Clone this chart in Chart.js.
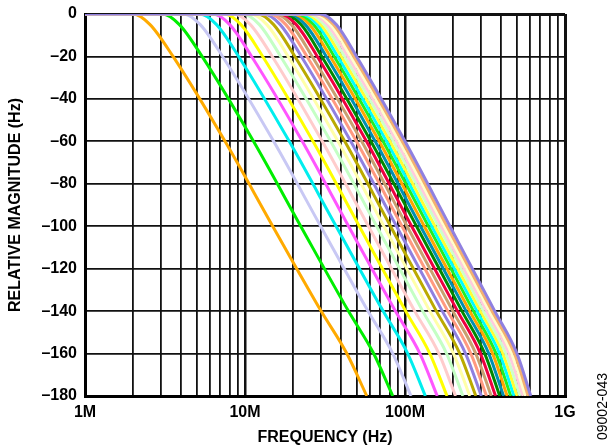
<!DOCTYPE html>
<html>
<head>
<meta charset="utf-8">
<script src="https://cdn.jsdelivr.net/npm/chart.js@4.4.0/dist/chart.umd.min.js"></script>
<style>
  html, body { margin: 0; padding: 0; background: #fff; }
  #wrap { width: 610px; height: 448px; }
</style>
</head>
<body>
<div id="wrap"><canvas id="chart" width="610" height="448"></canvas></div>
<script>
// magnitude levels (dB) that every curve row below is read at
const levelsDb = [0, -5, -20, -60, -100, -140, -160, -180];
const startMHz = 1;

// frequency (MHz) where each filter curve reaches the levels above
// knee, -5, -20, -60, -100, -140, -160, -180
const curveRows = [
    [2.00, 2.55, 3.55, 7.50, 14.9, 29.9, 43.3, 57.7],
    [3.05, 3.89, 5.39, 11.3, 22.3, 44.3, 63.7, 83.8],
    [4.13, 5.25, 7.24, 15.1, 29.7, 58.7, 83.9, 109],
    [5.22, 6.64, 9.12, 18.9, 37.1, 73.0, 104, 134],
    [6.32, 8.03, 11.0, 22.8, 44.4, 87.1, 124, 159],
    [7.44, 9.43, 12.9, 26.6, 51.8, 101, 143, 183],
    [8.56, 10.8, 14.8, 30.4, 59.1, 115, 163, 207],
    [9.68, 12.3, 16.7, 34.3, 66.5, 129, 182, 230],
    [10.8, 13.7, 18.6, 38.1, 73.8, 143, 201, 254],
    [12.0, 15.1, 20.5, 42.0, 81.2, 157, 220, 277],
    [13.1, 16.6, 22.5, 45.8, 88.5, 171, 239, 300],
    [14.2, 18.0, 24.4, 49.7, 95.8, 185, 258, 323],
    [15.4, 19.5, 26.3, 53.6, 103, 199, 277, 346],
    [16.6, 20.9, 28.3, 57.4, 110, 213, 296, 368],
    [17.7, 22.4, 30.2, 61.2, 118, 227, 315, 391],
    [18.9, 23.8, 32.2, 65.1, 125, 241, 334, 413],
    [20.0, 25.3, 34.1, 69.0, 132, 254, 353, 435],
    [21.2, 26.8, 36.1, 72.9, 140, 268, 371, 458],
    [22.4, 28.3, 38.0, 76.7, 147, 282, 390, 480],
    [23.6, 29.7, 40.0, 80.6, 154, 296, 409, 502],
    [24.8, 31.2, 41.9, 84.5, 162, 309, 427, 524],
    [25.9, 32.7, 43.9, 88.4, 169, 323, 446, 546],
    [27.1, 34.2, 45.9, 92.3, 176, 337, 464, 567],
    [28.3, 35.7, 47.8, 96.1, 183, 350, 483, 589],
    [29.5, 37.2, 49.8, 100, 191, 364, 501, 611]
];

const curveColors = [
    '#ffaa00', '#00ee00', '#c8c8f4', '#00eeee', '#ff55ff', '#ffff00', '#ffcccc',
    '#c4ffc4', '#ffffa8', '#bbaa00', '#9080e0', '#ff9980', '#c8a070', '#ee0040',
    '#008800', '#0090b0', '#ffa500', '#22ee22', '#00ffff', '#ffff33', '#ccffcc',
    '#ffccdd', '#ffffcc', '#f4b070', '#9080e0'
];

const freqGrid = [1, 2, 3, 4, 5, 6, 7, 8, 9, 10, 20, 30, 40, 50, 60, 70, 80, 90,
    100, 200, 300, 400, 500, 600, 700, 800, 900, 1000];
const freqTickValues = [1, 10, 100, 1000];
const freqTickLabels = ['1M', '10M', '100M', '1G'];
const figureCode = '09002-043';

const fontFamily = '"Liberation Sans", Arial, sans-serif';
const boldFont = { family: fontFamily, size: 16, weight: 'bold' };
// tight line height so the top "0" label does not push the plot down
const yTickFont = { family: fontFamily, size: 16, weight: 'bold', lineHeight: 0.75 };

const datasets = curveRows.map((row, i) => ({
    data: [{ x: startMHz, y: 0 }].concat(row.map((f, j) => ({ x: f, y: levelsDb[j] }))),
    borderColor: curveColors[i],
    borderWidth: 3,
    pointRadius: 0,
    fill: false,
    cubicInterpolationMode: 'monotone',
    order: curveRows.length - i
}));

const figureLabel = {
    id: 'figureLabel',
    afterDraw(chart) {
        const ctx = chart.ctx;
        ctx.save();
        ctx.font = '14px ' + fontFamily;
        ctx.fillStyle = '#000';
        ctx.translate(603, 440);
        ctx.rotate(-Math.PI / 2);
        ctx.textAlign = 'left';
        ctx.textBaseline = 'middle';
        ctx.fillText(figureCode, 0, 0);
        ctx.restore();
    }
};

new Chart(document.getElementById('chart'), {
    type: 'line',
    data: { datasets },
    plugins: [figureLabel],
    options: {
        responsive: false,
        animation: false,
        devicePixelRatio: 1,
        layout: { padding: { left: 0, right: 45, top: 14, bottom: 0 } },
        plugins: { legend: { display: false }, tooltip: { enabled: false } },
        scales: {
            x: {
                type: 'logarithmic',
                min: 1,
                max: 1000,
                afterBuildTicks: scale => {
                    scale.ticks = freqGrid.map(v => ({ value: v }));
                },
                afterFit: scale => { scale.height = 52; },
                ticks: {
                    autoSkip: false,
                    maxRotation: 0,
                    padding: 7,
                    color: '#000',
                    font: boldFont,
                    callback: value => {
                        const idx = freqTickValues.indexOf(value);
                        return idx >= 0 ? freqTickLabels[idx] : '';
                    }
                },
                grid: {
                    color: '#111',
                    drawTicks: false,
                    lineWidth: ctx => {
                        const v = ctx.tick ? ctx.tick.value : 0;
                        if (v === 1 || v === 1000) return 3;
                        if (v === 10 || v === 100) return 2.5;
                        return 1.8;
                    }
                },
                border: { display: true, color: '#000', width: 3 },
                title: {
                    display: true,
                    text: 'FREQUENCY (Hz)',
                    color: '#000',
                    font: boldFont,
                    padding: { top: 0, bottom: 1 }
                }
            },
            y: {
                min: -180,
                max: 0,
                afterFit: scale => { scale.width = 85; },
                ticks: {
                    stepSize: 20,
                    padding: 8,
                    color: '#000',
                    font: yTickFont,
                    callback: value => value < 0 ? '\u2013' + Math.abs(value) : String(value)
                },
                grid: {
                    color: '#111',
                    drawTicks: false,
                    lineWidth: ctx => {
                        const v = ctx.tick ? ctx.tick.value : 0;
                        return (v === 0 || v === -180) ? 3 : 1.8;
                    }
                },
                border: { display: true, color: '#000', width: 3 },
                title: {
                    display: true,
                    text: 'RELATIVE MAGNITUDE (Hz)',
                    color: '#000',
                    font: boldFont,
                    padding: { top: 6, bottom: 0 }
                }
            }
        }
    }
});
</script>
</body>
</html>
